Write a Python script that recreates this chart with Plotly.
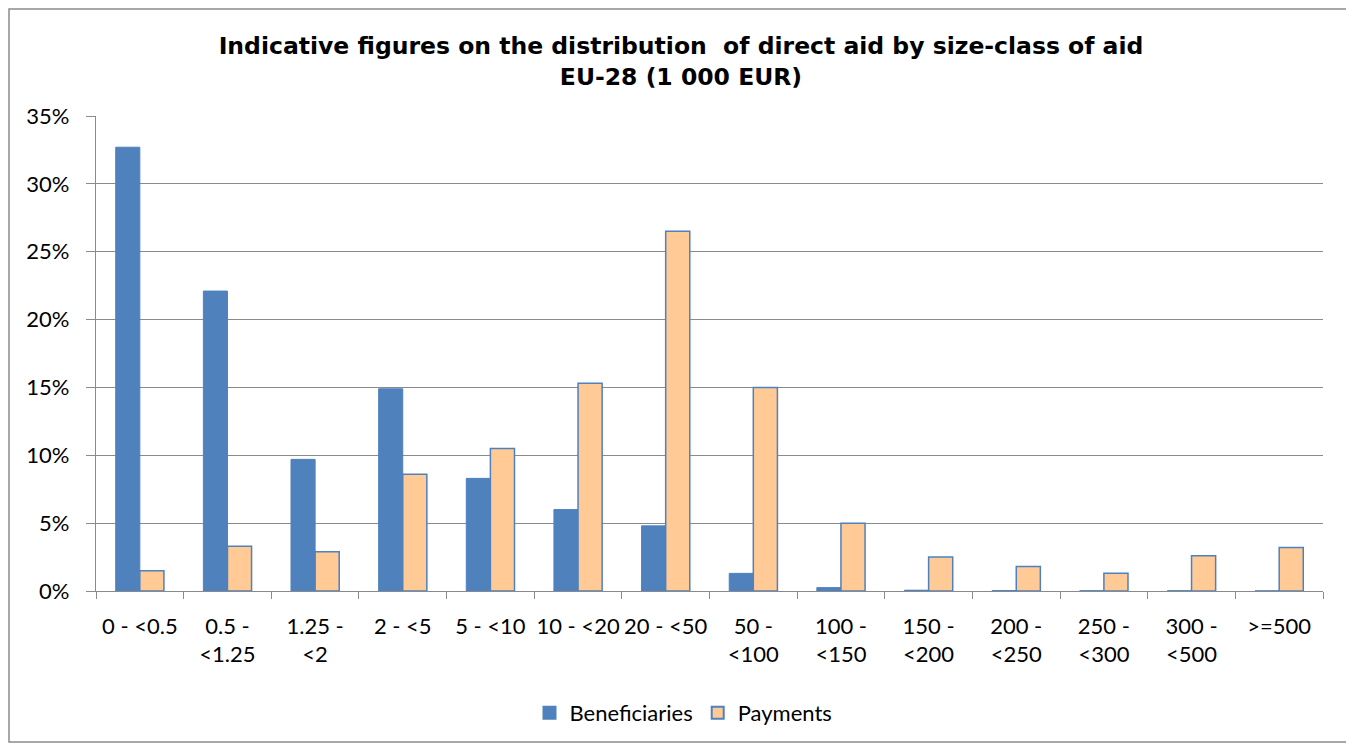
import plotly.graph_objects as go

categories = ["0 - <0.5", "0.5 - <1.25", "1.25 - <2", "2 - <5", "5 - <10", "10 - <20",
              "20 - <50", "50 - <100", "100 - <150", "150 - <200", "200 - <250",
              "250 - <300", "300 - <500", ">=500"]
tick_labels = ["0 - <0.5", "0.5 -<br><1.25", "1.25 -<br><2", "2 - <5", "5 - <10", "10 - <20",
               "20 - <50", "50 -<br><100", "100 -<br><150", "150 -<br><200", "200 -<br><250",
               "250 -<br><300", "300 -<br><500", ">=500"]
beneficiaries = [32.7, 22.1, 9.7, 14.9, 8.3, 6.0, 4.8, 1.3, 0.25, 0.06, 0.03, 0.02, 0.02, 0.01]
payments = [1.5, 3.3, 2.9, 8.6, 10.5, 15.3, 26.5, 15.0, 5.0, 2.5, 1.8, 1.3, 2.6, 3.2]
y_ticks = [0, 5, 10, 15, 20, 25, 30, 35]
y_tick_labels = ["0%", "5%", "10%", "15%", "20%", "25%", "30%", "35%"]

# page body has an 8px margin, so figure is laid out 8px smaller
W, H = 1346, 738
L, R, T, B = 88, 31, 108, 155
PW, PH = W - L - R, H - T - B

fig = go.Figure()
fig.add_trace(go.Bar(x=categories, y=beneficiaries, name="Beneficiaries",
                     marker=dict(color="#4F81BD", line=dict(color="#4F81BD", width=1))))
fig.add_trace(go.Bar(x=categories, y=payments, name="Payments",
                     marker=dict(color="#FFCA96", line=dict(color="#4F81BD", width=1.5))))

font_main = "Lato, 'Open Sans', sans-serif"
fig.update_layout(
    width=W, height=H,
    margin=dict(l=L, r=R, t=T, b=B),
    paper_bgcolor="white", plot_bgcolor="white",
    barmode="group", bargap=0.45, bargroupgap=0,
    title=dict(text="<b>Indicative figures on the distribution  of direct aid by size-class of aid<br>EU-28 (1 000 EUR)</b>",
               x=0.5, xanchor="center", y=1 - 46 / H, yanchor="middle",
               font=dict(family="'DejaVu Sans', Verdana, sans-serif", size=23.5, color="black")),
    font=dict(family=font_main, size=22, color="black"),
    legend=dict(orientation="h", x=0.5 - 26 / PW, xanchor="center", y=-(705 - (H - B)) / PH, yanchor="middle",
                font=dict(family=font_main, size=22, color="black"),
                itemsizing="constant", traceorder="normal"),
    showlegend=True,
)
fig.update_yaxes(range=[0, 35], tickmode="array", tickvals=y_ticks, ticktext=y_tick_labels,
                 showgrid=True, gridcolor="#8A8A8A", gridwidth=1.3,
                 showline=True, linecolor="#8A8A8A", linewidth=1.3,
                 ticks="outside", ticklen=9, tickcolor="#8A8A8A", tickwidth=1.3,
                 ticklabelstandoff=12,
                 zeroline=False, tickfont=dict(size=22))
fig.update_xaxes(tickmode="array", tickvals=categories, ticktext=tick_labels,
                 showline=True, linecolor="#8A8A8A", linewidth=1.3,
                 ticks="outside", ticklen=7, tickcolor="#8A8A8A", tickwidth=1.3,
                 tickson="boundaries", ticklabelstandoff=15,
                 tickangle=0, tickfont=dict(size=22))

# chart frame
fig.add_shape(type="rect", xref="paper", yref="paper",
              x0=(1 - L) / PW, x1=(1339 - L) / PW,
              y0=-(734 - (H - B)) / PH, y1=1 + (T - 1) / PH,
              line=dict(color="#8C8C8C", width=1.5), fillcolor="rgba(0,0,0,0)", layer="below")

fig.write_html("out.html")
